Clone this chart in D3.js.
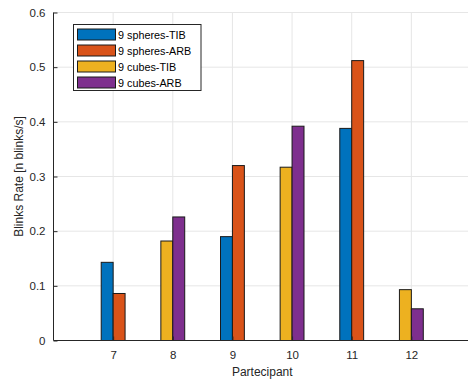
<!DOCTYPE html>
<html><head><meta charset="utf-8">
<script src="https://cdn.jsdelivr.net/npm/d3@7"></script>
<style>body{margin:0;background:#fff}svg{display:block;font-family:"Liberation Sans",Arial,sans-serif}</style>
</head><body>
<script>
const participants = [7, 8, 9, 10, 11, 12];
const seriesNames = ["9 spheres-TIB", "9 spheres-ARB", "9 cubes-TIB", "9 cubes-ARB"];
const seriesColors = ["#0072BD", "#D95319", "#EDB120", "#7E2F8E"];
const sphereTIB = [0.143, null, 0.190, null, 0.388, null];
const sphereARB = [0.086, null, 0.320, null, 0.512, null];
const cubeTIB   = [null, 0.182, null, 0.317, null, 0.093];
const cubeARB   = [null, 0.226, null, 0.392, null, 0.058];
const yTicks = [0, 0.1, 0.2, 0.3, 0.4, 0.5, 0.6];
const xTicks = [7, 8, 9, 10, 11, 12];

const W = 468, H = 381;
const svg = d3.select("body").append("svg").attr("width", W).attr("height", H);
const x = d3.scaleLinear().domain([6, 13]).range([53.5, 471]);
const y = d3.scaleLinear().domain([0, 0.6]).range([340.5, 12.5]);
const barW = x(6.2) - x(6);

const g = svg.append("g");
g.selectAll(".gx").data(xTicks).join("line")
  .attr("x1", d => x(d)).attr("x2", d => x(d)).attr("y1", y(0)).attr("y2", y(0.6))
  .attr("stroke", "#e6e6e6").attr("stroke-width", 1);
g.selectAll(".gy").data(yTicks.slice(1)).join("line")
  .attr("x1", x(6)).attr("x2", W).attr("y1", d => y(d)).attr("y2", d => y(d))
  .attr("stroke", "#e6e6e6").attr("stroke-width", 1);

const series = [sphereTIB, sphereARB, cubeTIB, cubeARB];
const offsets = [-1, 0, -1, 0];
series.forEach((vals, si) => {
  const data = participants.map((p, i) => ({p, v: vals[i]})).filter(d => d.v != null);
  svg.append("g").selectAll("rect").data(data).join("rect")
    .attr("x", d => x(d.p) + offsets[si] * barW)
    .attr("y", d => y(d.v))
    .attr("width", barW)
    .attr("height", d => y(0) - y(d.v))
    .attr("fill", seriesColors[si])
    .attr("stroke", "#1a1a1a").attr("stroke-width", 1);
});

const xAxis = d3.axisBottom(x).tickValues(xTicks).tickSize(-4).tickPadding(10).tickFormat(d3.format("d"));
const xa = svg.append("g").attr("transform", `translate(0,${y(0)})`).call(xAxis);
const yAxis = d3.axisLeft(y).tickValues(yTicks).tickSize(-4).tickPadding(8).tickFormat(d => d === 0 ? "0" : d3.format(".1f")(d));
const ya = svg.append("g").attr("transform", `translate(${x(6)},0)`).call(yAxis);
[xa, ya].forEach(a => {
  a.select(".domain").attr("stroke", "#262626").attr("stroke-width", 1);
  a.selectAll(".tick line").attr("stroke", "#262626");
  a.selectAll("text").attr("fill", "#262626").attr("font-size", 11.5)
   .attr("font-family", '"Liberation Sans",Arial,sans-serif');
});
xa.select(".domain").attr("d", `M${x(6)},0H${W}`);
ya.select(".domain").attr("d", `M0,${y(0)}V${y(0.6)}`);

svg.append("text").attr("x", (x(6) + x(13)) / 2).attr("y", 375.5).attr("text-anchor", "middle")
  .attr("font-size", 12).attr("fill", "#262626").text("Partecipant");
svg.append("text").attr("transform", `translate(22.5,${(y(0) + y(0.6)) / 2}) rotate(-90)`)
  .attr("text-anchor", "middle").attr("font-size", 12).attr("fill", "#262626").text("Blinks Rate [n blinks/s]");

const lg = svg.append("g");
lg.append("rect").attr("x", 73.5).attr("y", 24.5).attr("width", 127.5).attr("height", 66)
  .attr("fill", "#fff").attr("stroke", "#262626").attr("stroke-width", 1);
seriesNames.forEach((n, i) => {
  const cy = 34.5 + i * 16;
  lg.append("rect").attr("x", 77.5).attr("y", cy - 5.5).attr("width", 38).attr("height", 11)
    .attr("fill", seriesColors[i]).attr("stroke", "#1a1a1a").attr("stroke-width", 1);
  lg.append("text").attr("x", 118).attr("y", cy + 4).attr("font-size", 10.8).attr("fill", "#000").text(n);
});
</script>
</body></html>
